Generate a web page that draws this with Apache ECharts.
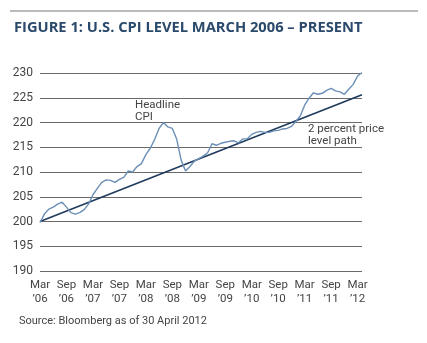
<!DOCTYPE html>
<html><head><meta charset="utf-8">
<script src="https://cdn.jsdelivr.net/npm/echarts@6/dist/echarts.min.js"></script>
<style>html,body{margin:0;padding:0;background:#fff}#c{width:427px;height:343px}</style>
</head><body><div id="c"></div>
<script>
// Monthly categories, Mar 2006 – Apr 2012
var monthNames = ['Jan','Feb','Mar','Apr','May','Jun','Jul','Aug','Sep','Oct','Nov','Dec'];
var categories = [];
(function(){ for (var y = 2006; y <= 2012; y++) for (var m = 0; m < 12; m++) {
  if (y === 2006 && m < 2) continue; if (y === 2012 && m > 3) continue;
  categories.push(monthNames[m] + '\n\u2019' + String(y).slice(2)); } })();

// Headline CPI (index level)
var headlineCPI = [
  199.8, 201.5, 202.5, 202.9, 203.5, 203.9, 202.9, 201.8, 201.5, 201.8,
  202.4, 203.5, 205.4, 206.7, 207.9, 208.4, 208.3, 207.9, 208.5, 208.9, 210.2, 210.0,
  211.1, 211.7, 213.5, 214.8, 216.6, 218.8, 220.0, 219.1, 218.8, 216.6, 212.4, 210.2,
  211.1, 212.2, 212.7, 213.2, 213.9, 215.7, 215.4, 215.8, 216.0, 216.2, 216.3, 215.9,
  216.7, 216.7, 217.6, 218.0, 218.2, 218.0, 218.0, 218.3, 218.4, 218.7, 218.8, 219.2,
  220.2, 221.3, 223.5, 224.9, 226.0, 225.7, 225.9, 226.5, 226.9, 226.4, 226.2, 225.7,
  226.7, 227.7, 229.4, 230.1
];
// 2 percent price level path (start and end values)
var pathStart = 200.0;
var pathEnd = 225.6;
var yTicks = { min: 190, max: 230, step: 5 };

var chart = echarts.init(document.getElementById('c'), null, { renderer: 'canvas' });
var labelFont = 'Roboto';
chart.setOption({
  animation: false,
  backgroundColor: '#fff',
  title: {
    text: 'FIGURE 1: U.S. CPI LEVEL MARCH 2006 \u2013 PRESENT',
    left: 9, top: 15,
    textStyle: { color: '#2b4a6b', fontFamily: 'Open Sans', fontWeight: 'bold', fontSize: 14.7 }
  },
  grid: { left: 40, right: 65, top: 73, bottom: 72 },
  xAxis: {
    type: 'category', data: categories, boundaryGap: false,
    axisLine: { show: false }, axisTick: { show: false },
    axisLabel: {
      interval: function (i) { return i % 6 === 0; },
      color: '#444', fontFamily: labelFont, fontSize: 11.5, lineHeight: 14, margin: 7
    },
    splitLine: { show: false }
  },
  yAxis: {
    type: 'value', min: yTicks.min, max: yTicks.max, interval: yTicks.step,
    axisLine: { show: false }, axisTick: { show: false },
    axisLabel: { color: '#444', fontFamily: labelFont, fontSize: 12, margin: 7 },
    splitLine: { lineStyle: { color: '#6a6a6a', width: 1 } }
  },
  series: [
    {
      type: 'line', data: [[categories[0], pathStart], [categories[categories.length - 1], pathEnd]],
      symbol: 'none', lineStyle: { color: '#1e3a5c', width: 1.6 }, z: 3
    },
    {
      type: 'line', data: headlineCPI, symbol: 'none',
      lineStyle: { color: '#6b8fb6', width: 1.4 }, z: 4
    }
  ],
  graphic: [
    { type: 'line', shape: { x1: 10, y1: 11, x2: 418, y2: 11 }, style: { stroke: '#777', lineWidth: 1 } },
    { type: 'text', left: 135, top: 99, style: { text: 'Headline\nCPI', fill: '#444', font: '11.5px Roboto', lineHeight: 12 } },
    { type: 'text', left: 308, top: 123, style: { text: '2 percent price\nlevel path', fill: '#444', font: '11.5px Roboto', lineHeight: 12 } },
    { type: 'text', left: 19, top: 316, style: { text: 'Source: Bloomberg as of 30 April 2012', fill: '#444', font: '11px Roboto' } }
  ]
});
</script></body></html>
